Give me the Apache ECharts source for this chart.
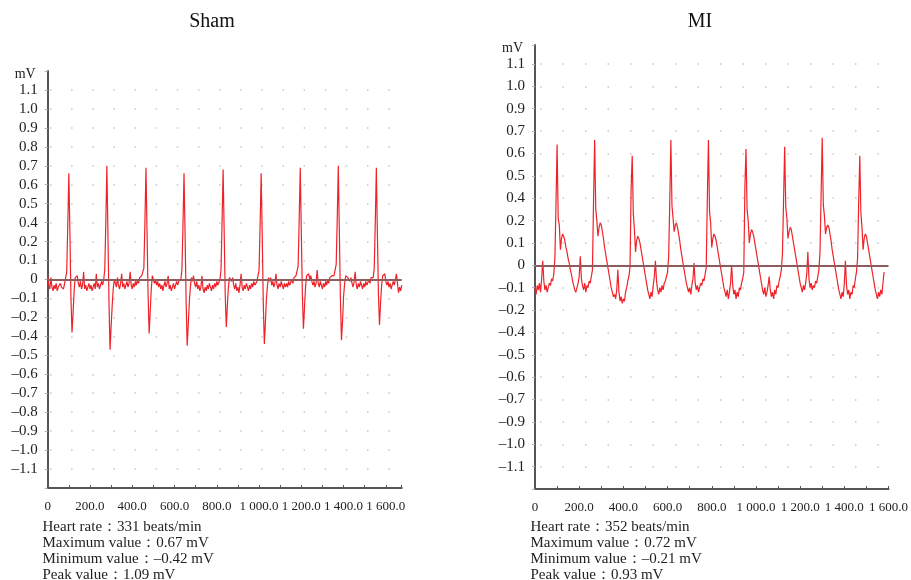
<!DOCTYPE html>
<html><head><meta charset="utf-8">
<script src="https://cdn.jsdelivr.net/npm/echarts@6/dist/echarts.min.js"></script>
<style>html,body{margin:0;padding:0;background:#fff}#c{width:911px;height:580px}</style>
</head><body><div id="c"></div>
<script>
// sampling interval of both traces (ms)
const sampleMs = 5;

// Sham trace (mV), one value every 5 ms from 0 ms
const shamMV = [
0.02,-0.03,-0.05,0.01,-0.04,-0.06,-0.03,-0.05,-0.02,-0.06,
-0.04,-0.05,-0.02,-0.04,-0.03,-0.05,-0.02,-0.01,0.04,0.38,
0.66,0.30,-0.10,-0.36,-0.18,-0.06,0.01,0.00,0.02,-0.02,
-0.04,-0.01,-0.05,-0.03,0.04,-0.05,-0.03,-0.06,-0.04,-0.02,
-0.05,-0.03,-0.06,-0.04,-0.02,-0.05,0.03,-0.04,-0.02,-0.05,
-0.03,-0.01,-0.03,0.00,0.05,0.40,0.70,0.28,-0.12,-0.47,
-0.30,-0.14,-0.05,0.00,-0.02,-0.04,0.01,-0.03,-0.05,-0.02,
0.03,-0.04,-0.02,-0.05,-0.03,-0.01,-0.04,-0.02,0.04,-0.03,
-0.05,-0.02,-0.04,-0.01,-0.03,0.00,-0.02,0.01,0.00,0.02,
0.01,0.06,0.40,0.69,0.30,-0.08,-0.37,-0.17,-0.05,0.02,
0.01,-0.02,0.00,-0.03,-0.01,-0.04,-0.02,-0.05,-0.03,-0.06,
-0.03,-0.01,-0.04,-0.02,0.02,-0.05,-0.03,-0.06,-0.04,-0.02,
-0.05,-0.03,-0.01,-0.03,-0.01,-0.02,0.00,0.05,0.36,0.66,
0.28,-0.12,-0.45,-0.28,-0.12,-0.04,0.01,-0.01,0.02,-0.02,
-0.04,-0.01,-0.05,-0.03,-0.06,-0.04,0.02,-0.05,-0.07,-0.04,
-0.06,-0.03,-0.05,-0.02,-0.04,-0.06,-0.03,-0.05,-0.02,-0.04,
-0.01,-0.03,-0.02,0.00,0.05,0.40,0.68,0.30,-0.08,-0.30,
-0.14,-0.04,0.01,0.02,-0.01,0.01,-0.03,-0.05,-0.02,-0.06,
-0.04,-0.07,-0.03,0.03,-0.04,-0.06,-0.03,-0.05,-0.02,-0.04,
-0.06,-0.03,-0.05,-0.02,-0.04,-0.01,-0.03,-0.02,-0.01,0.00,
0.05,0.36,0.66,0.28,-0.12,-0.44,-0.26,-0.10,-0.03,0.01,
-0.01,0.01,-0.03,-0.01,-0.04,-0.02,0.03,-0.03,-0.05,-0.02,
-0.04,-0.01,-0.03,-0.05,-0.02,-0.04,-0.02,-0.04,-0.01,-0.03,
-0.02,0.00,-0.02,0.01,0.00,0.02,0.02,0.07,0.42,0.69,
0.30,-0.08,-0.32,-0.15,-0.04,0.02,0.01,0.03,0.00,0.02,
-0.01,-0.03,-0.01,-0.04,-0.02,0.05,-0.02,-0.04,-0.01,-0.03,
-0.05,-0.02,-0.04,-0.01,-0.03,0.00,-0.02,0.01,0.00,0.02,
0.03,0.02,0.03,0.08,0.42,0.70,0.30,-0.10,-0.42,-0.24,
-0.09,-0.02,0.02,0.03,0.01,0.02,-0.01,0.01,-0.02,-0.04,
-0.01,0.04,-0.03,-0.05,-0.02,-0.04,-0.01,-0.03,-0.05,-0.02,
-0.04,-0.01,-0.03,-0.02,0.00,-0.02,0.01,0.00,0.01,0.06,
0.40,0.69,0.28,-0.08,-0.28,-0.12,-0.03,0.02,0.01,0.03,
-0.01,-0.03,-0.01,-0.04,-0.02,-0.05,-0.03,-0.01,-0.03,0.00,
0.03,-0.02,-0.07,-0.04,-0.06,-0.03
];

// MI trace (mV), one value every 5 ms from 0 ms
const miMV = [
-0.10,-0.13,-0.09,-0.11,-0.08,-0.12,-0.06,0.02,-0.07,-0.11,
-0.09,-0.12,-0.10,-0.08,-0.09,-0.06,-0.07,-0.04,0.03,0.35,
0.64,0.22,0.18,0.07,0.12,0.14,0.13,0.11,0.08,0.06,
0.03,0.01,-0.02,-0.04,-0.07,-0.09,-0.11,-0.12,-0.10,-0.08,
-0.05,0.04,-0.06,-0.09,-0.11,-0.08,-0.12,-0.09,-0.10,-0.07,
-0.08,-0.05,-0.02,0.38,0.66,0.30,0.20,0.13,0.17,0.19,
0.18,0.15,0.12,0.08,0.05,0.02,-0.01,-0.04,-0.07,-0.10,
-0.12,-0.14,-0.13,-0.15,-0.11,-0.02,-0.12,-0.16,-0.14,-0.17,
-0.15,-0.16,-0.12,-0.10,-0.07,-0.05,-0.01,0.44,0.59,0.26,
0.16,0.06,0.11,0.13,0.12,0.10,0.07,0.04,0.01,-0.02,
-0.05,-0.08,-0.11,-0.13,-0.15,-0.12,-0.14,-0.09,-0.05,0.02,
-0.07,-0.11,-0.13,-0.10,-0.12,-0.09,-0.11,-0.08,-0.07,-0.05,
-0.03,0.04,0.37,0.66,0.33,0.22,0.15,0.18,0.19,0.17,
0.14,0.11,0.07,0.04,0.01,-0.02,-0.05,-0.08,-0.10,-0.12,
-0.10,-0.13,-0.09,-0.06,0.01,-0.08,-0.11,-0.09,-0.12,-0.10,
-0.08,-0.09,-0.06,-0.07,-0.04,-0.01,0.40,0.66,0.28,0.19,
0.08,0.12,0.14,0.13,0.11,0.08,0.05,0.02,-0.01,-0.04,
-0.07,-0.10,-0.12,-0.14,-0.11,-0.15,-0.12,-0.08,0.00,-0.09,
-0.13,-0.11,-0.15,-0.12,-0.14,-0.10,-0.11,-0.08,-0.06,-0.03,
0.45,0.62,0.30,0.20,0.10,0.14,0.16,0.15,0.13,0.10,
0.07,0.04,0.01,-0.02,-0.05,-0.08,-0.11,-0.13,-0.10,-0.14,
-0.12,-0.09,-0.05,-0.11,-0.14,-0.12,-0.15,-0.11,-0.13,-0.09,
-0.10,-0.07,-0.05,-0.02,0.05,0.38,0.63,0.32,0.22,0.12,
0.15,0.17,0.16,0.13,0.10,0.07,0.04,0.01,-0.02,-0.05,
-0.08,-0.10,-0.12,-0.09,-0.11,-0.08,-0.04,0.06,-0.06,-0.10,
-0.08,-0.11,-0.09,-0.10,-0.07,-0.08,-0.05,-0.02,0.06,0.42,
0.67,0.34,0.24,0.14,0.17,0.18,0.17,0.14,0.11,0.07,
0.04,0.01,-0.02,-0.05,-0.08,-0.11,-0.13,-0.15,-0.12,-0.14,
-0.08,0.02,-0.09,-0.13,-0.11,-0.15,-0.12,-0.13,-0.09,-0.10,
-0.06,-0.03,0.03,0.36,0.59,0.27,0.17,0.07,0.12,0.14,
0.13,0.10,0.07,0.04,0.01,-0.02,-0.05,-0.08,-0.11,-0.13,
-0.15,-0.12,-0.14,-0.11,-0.13,-0.08,-0.03
];

// y tick labels (top to bottom), evenly spaced as in the figure
const shamTicks = [1.1,1.0,0.9,0.8,0.7,0.6,0.5,0.4,0.2,0.1,0,-0.1,-0.2,-0.4,-0.5,-0.6,-0.7,-0.8,-0.9,-1.0,-1.1];
const miTicks = [1.1,1.0,0.9,0.7,0.6,0.5,0.4,0.2,0.1,0,-0.1,-0.2,-0.4,-0.5,-0.6,-0.7,-0.9,-1.0,-1.1];

// x axis: ticks every 100 ms, labels every 200 ms
const xTickStep = 100;
const xLabelStep = 200;

const titles = ['Sham', 'MI'];
const shamStats = ['Heart rate\uFF1A331 beats/min', 'Maximum value\uFF1A0.67 mV', 'Minimum value\uFF1A\u20130.42 mV', 'Peak value\uFF1A1.09 mV'];
const miStats = ['Heart rate\uFF1A352 beats/min', 'Maximum value\uFF1A0.72 mV', 'Minimum value\uFF1A\u20130.21 mV', 'Peak value\uFF1A0.93 mV'];

const FONT = '"Liberation Serif","Times New Roman",serif';

function toSlot(v, ticks) {
  const top = (ticks.length - 1) / 2;
  for (let i = 0; i < ticks.length - 1; i++) {
    if (v <= ticks[i] && v >= ticks[i + 1]) {
      return top - i - (ticks[i] - v) / (ticks[i] - ticks[i + 1]);
    }
  }
  return v > ticks[0] ? top : -top;
}
function fmtMV(t) {
  if (t === 0) return '0';
  return (t < 0 ? '\u2013' : '') + Math.abs(t).toFixed(1);
}
function yFmt(ticks) {
  const top = (ticks.length - 1) / 2;
  return function (val) {
    const s = Math.round(val);
    if (Math.abs(val - s) > 1e-6) return '';
    const t = ticks[top - s];
    return t === undefined ? '' : fmtMV(t);
  };
}
function xFmt(val) {
  if (Math.abs(val % xLabelStep) > 1e-6) return '';
  if (val === 0) return '0';
  const s = String(Math.round(val));
  const g = s.length > 3 ? s.slice(0, s.length - 3) + ' ' + s.slice(-3) : s;
  return g + '.0';
}
function toSeries(arr, ticks) {
  return arr.map((v, i) => [i * sampleMs, toSlot(v, ticks)]);
}

function xAxisCfg(idx, max) {
  return {
    type: 'value', gridIndex: idx, min: 0, max: max, interval: xTickStep,
    axisLine: { show: true, onZero: false, lineStyle: { color: '#555', width: 2 } },
    axisTick: { show: true, inside: true, length: 3, lineStyle: { color: '#555', width: 1 } },
    splitLine: { show: false },
    axisLabel: { formatter: xFmt, fontSize: 13, color: '#222', fontFamily: FONT, margin: 12, showMaxLabel: true }
  };
}
function yAxisCfg(idx, ticks, min, max, period, offset) {
  return {
    type: 'value', gridIndex: idx, min: min, max: max, interval: 1,
    name: 'mV', nameLocation: 'end', nameGap: -3,
    nameTextStyle: { align: 'right', verticalAlign: 'middle', padding: [0, 12, 0, 0], fontSize: 14, color: '#222', fontFamily: FONT },
    axisLine: { show: true, onZero: false, lineStyle: { color: '#555', width: 2 } },
    axisTick: { show: true, length: 3, lineStyle: { color: '#aab4c0', width: 1 } },
    axisLabel: { formatter: yFmt(ticks), fontSize: 15, color: '#222', fontFamily: FONT, margin: 10 },
    splitLine: {
      show: true, showMinLine: false, showMaxLine: false,
      lineStyle: { color: '#c6c6c6', width: 1.5, type: [1.5, period - 1.5], dashOffset: offset }
    }
  };
}
function seriesCfg(idx, data) {
  return {
    type: 'line', xAxisIndex: idx, yAxisIndex: idx, data: data,
    showSymbol: false, symbol: 'none', animation: false,
    lineStyle: { color: '#ef2229', width: 1.2 },
    markLine: {
      silent: true, symbol: 'none', label: { show: false },
      lineStyle: { color: '#8e5c5c', width: 2, type: 'solid' },
      data: [{ yAxis: 0 }]
    },
    z: 3
  };
}

const chart = echarts.init(document.getElementById('c'), null, { renderer: 'canvas' });
chart.setOption({
  animation: false,
  backgroundColor: '#fff',
  title: [
    { text: titles[0], left: 212, top: 12, textAlign: 'center', padding: 0, textStyle: { fontSize: 20, fontWeight: 'normal', color: '#111', fontFamily: FONT } },
    { text: titles[1], left: 700, top: 12, textAlign: 'center', padding: 0, textStyle: { fontSize: 20, fontWeight: 'normal', color: '#111', fontFamily: FONT } }
  ],
  grid: [
    { left: 47.7, right: 911 - 401.7, top: 71, bottom: 92, containLabel: false },
    { left: 535, right: 16, top: 45, bottom: 91, containLabel: false }
  ],
  xAxis: [xAxisCfg(0, 1675), xAxisCfg(1, 1600)],
  yAxis: [
    yAxisCfg(0, shamTicks, -11, 11, 354 / 16.75, 354 / 16.75 - 2.3),
    yAxisCfg(1, miTicks, -10, 9.85, 22.5, 22.5 - 5)
  ],
  series: [seriesCfg(0, toSeries(shamMV, shamTicks)), seriesCfg(1, toSeries(miMV, miTicks))],
  graphic: [
    { type: 'text', left: 42.5, top: 519, style: { text: shamStats.join('\n'), fill: '#222', fontSize: 15, lineHeight: 16, fontFamily: FONT } },
    { type: 'text', left: 530.5, top: 519, style: { text: miStats.join('\n'), fill: '#222', fontSize: 15, lineHeight: 16, fontFamily: FONT } }
  ]
});
</script>
</body></html>
